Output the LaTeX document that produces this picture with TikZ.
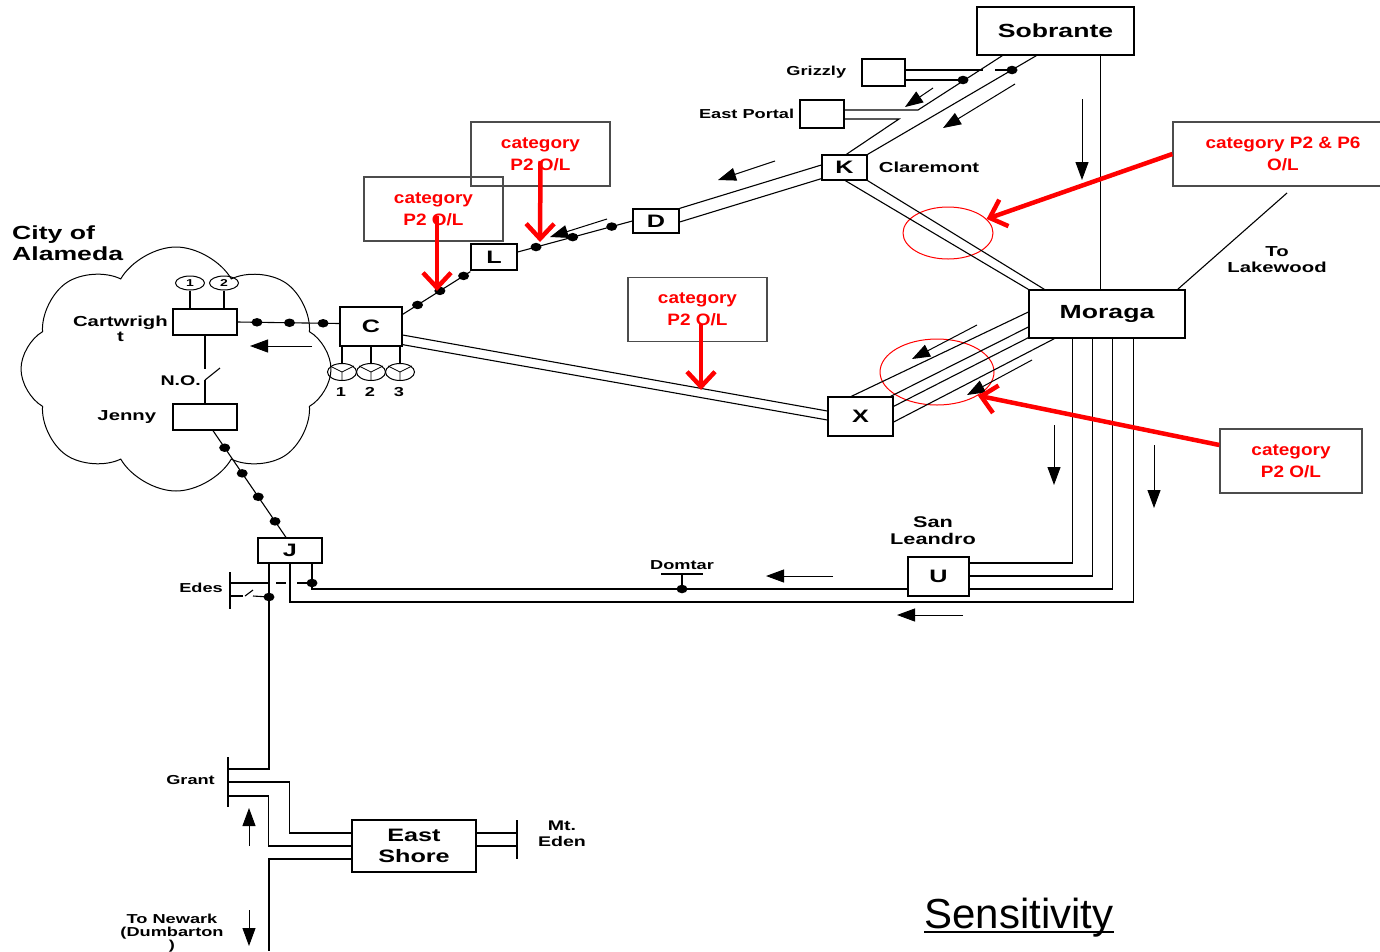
\documentclass[tikz,border=0pt]{standalone}
\usepackage{fontspec}
\setmainfont{Liberation Sans}
\newfontfamily\widebold[FakeStretch=1.4]{Liberation Sans Bold}
\newfontfamily\redbold[FakeStretch=1.15]{Liberation Sans Bold}
\usetikzlibrary{%
    arrows.meta,
    positioning,
    shapes.geometric,
    shapes.symbols
}
\newcommand{\wfont}[2]{\widebold\fontsize{#1}{#2}\selectfont}
\tikzset{station/.style = {draw, line width=1.3pt, fill=white, inner sep=0pt, align=center, font=\wfont{18}{21}}}
\tikzset{catbox/.style = {draw=black!70, line width=1.3pt, inner sep=0pt, align=center, text=red,
    font=\redbold\fontsize{16.5}{22}\selectfont, minimum width=139pt, minimum height=64pt}}
\tikzset{lbl/.style = {inner sep=0pt, align=center, font=\wfont{13}{15}}}
\tikzset{dot/.style = {ellipse, fill, inner sep=0pt, minimum width=11pt, minimum height=8.5pt}}
\tikzset{tap/.style = {ellipse, draw, line width=1pt, inner sep=0pt, minimum width=29pt, minimum height=14pt, font=\wfont{10}{10}}}
\tikzset{ring/.style = {ellipse, draw=red, line width=1pt, inner sep=0pt}}
\tikzset{wire/.style = {line width=1.1pt}}
\tikzset{flowarrow/.style = {-{Triangle[length=18pt,width=13pt]}, line width=1pt}}
\tikzset{redarrow/.style = {-{Straight Barb[length=15pt,width=28pt]}, red, line width=4.5pt}}

\begin{document}
\begin{tikzpicture}[x=1pt, y=-1pt]
    \useasboundingbox (0,0) rectangle (1380,951);
    \fill[white] (0,0) rectangle (1380,951);

    % city of Alameda
    \node[cloud, draw, line width=1pt, cloud puffs=8, cloud puff arc=120, aspect=1.3,
        minimum width=310pt, minimum height=244pt] (alameda) at (176,369) {};
    \node[lbl, font=\wfont{19}{21}, align=left, anchor=west] (alamedalbl) at (12,243) {City of\\Alameda};

    % stations
    \node[station, minimum width=157pt, minimum height=48pt, font=\wfont{19}{21}] (sob) at (1055.5,31) {Sobrante};
    \node[station, minimum width=43pt, minimum height=27pt] (griz) at (883.5,72.5) {};
    \node[station, minimum width=44pt, minimum height=28pt] (ep) at (822,114) {};
    \node[station, minimum width=45pt, minimum height=25pt] (K) at (844.5,167.5) {K};
    \node[station, minimum width=46pt, minimum height=24pt] (D) at (656,221) {D};
    \node[station, minimum width=46pt, minimum height=26pt] (L) at (494,257) {L};
    \node[station, minimum width=62pt, minimum height=39pt] (C) at (371,326.5) {C};
    \node[station, minimum width=156pt, minimum height=48pt, font=\wfont{19}{21}] (mor) at (1107,314) {Moraga};
    \node[station, minimum width=65pt, minimum height=39pt] (X) at (860.5,416.5) {X};
    \node[station, minimum width=61pt, minimum height=39pt] (U) at (938.5,576.5) {U};
    \node[station, minimum width=64pt, minimum height=25pt] (J) at (290,550.5) {J};
    \node[station, minimum width=124pt, minimum height=52pt] (es) at (414,846) {East\\Shore};
    \node[station, minimum width=64pt, minimum height=26pt] (cart) at (205,322) {};
    \node[station, minimum width=64pt, minimum height=26pt] (jen) at (205,417) {};

    % labels
    \node[lbl, left=15pt of griz] (grizlbl) {Grizzly};
    \node[lbl, left=5pt of ep] (eplbl) {East Portal};
    \node[lbl, font=\wfont{14.5}{16}, right=11pt of K] (klbl) {Claremont};
    \node[lbl, font=\wfont{14.5}{15}, anchor=east] (cartlbl) at (168,329) {Cartwrigh\\t};
    \node[lbl, font=\wfont{14.5}{16}, left=16pt of jen] (jenlbl) {Jenny};
    \node[lbl, font=\wfont{14}{16}, anchor=east] (nolbl) at (201,381) {N.O.};
    \node[lbl, font=\wfont{14.5}{16}] (lwlbl) at (1277,260) {To\\Lakewood};
    \node[lbl, font=\wfont{15.5}{17}] (sllbl) at (933,531) {San\\Leandro};
    \node[lbl] (domlbl) at (682,565) {Domtar};
    \node[lbl, anchor=east] (edeslbl) at (223,588) {Edes};
    \node[lbl, anchor=east] (grantlbl) at (215,780) {Grant};
    \node[lbl, font=\wfont{14}{16}] (edenlbl) at (562,834) {Mt.\\Eden};
    \node[lbl, font=\wfont{13}{13}] (newlbl) at (172,933) {To Newark\\(Dumbarton\\)};
    \node[inner sep=0pt, anchor=base, font=\fontsize{42}{42}\selectfont] (title) at (1019,928) {Sensitivity};
    \draw[line width=1.6pt] ([yshift=-4pt]title.base west) -- ([yshift=-4pt]title.base east);

    % overload callouts
    \node[catbox] (cat1) at (540.5,154) {category\\P2 O/L};
    \node[catbox] (cat2) at (433.5,209) {category\\P2 O/L};
    \node[catbox] (cat3) at (697.5,309.5) {category\\P2 O/L};
    \node[catbox, minimum width=220pt] (cat4) at (1283,154) {category P2 \& P6\\O/L};
    \node[catbox, minimum width=142pt] (cat5) at (1291,461) {category\\P2 O/L};
    \node[ring, minimum width=90pt, minimum height=52pt] (ring1) at (948,233) {};
    \node[ring, minimum width=114pt, minimum height=66pt] (ring2) at (937,372) {};

    % bend points and bus bars
    \coordinate (epa) at (918,110);
    \coordinate (epb) at (899,119);
    \coordinate (gzhop1) at (983,70);
    \coordinate (gzhop2) at (995,70);
    \coordinate (lakewood) at (1287,193);
    \coordinate (jbend) at (290,602);
    \coordinate (no1) at (205,369);
    \coordinate (no2) at (205,380);
    \coordinate (no3) at (220,368);
    \coordinate (domtap) at (682,574);
    \coordinate (domw) at (661,574);
    \coordinate (dome) at (703,574);
    \coordinate (g1) at (228,769);
    \coordinate (g2) at (228,782);
    \coordinate (g3) at (228,796);
    \coordinate (granttop) at (228,757);
    \coordinate (grantbot) at (228,807);
    \coordinate (newark) at (269,951);
    \coordinate (edestop) at (230,572);
    \coordinate (edesbot) at (230,609);
    \coordinate (edes1) at (230,583);
    \coordinate (edes1b) at (270,583);
    \coordinate (edes1c) at (276,583);
    \coordinate (edes2) at (230,596);
    \coordinate (edes2a) at (243,596);
    \coordinate (edes2b) at (245,596);
    \coordinate (edes2c) at (253,590);
    \coordinate (edes2d) at (253,596);
    \coordinate (edentop) at (517,820);
    \coordinate (edenbot) at (517,859);
    \coordinate (eden1) at (517,833);
    \coordinate (eden2) at (517,846);
    \coordinate (hit1) at (540,242);
    \coordinate (hit2) at (437,291);
    \coordinate (hit3) at (701,390);

    \node[dot] (gzd1) at (1012,70) {};
    \node[dot] (gzd2) at (963,80) {};
    \node[dot] (domdot) at (682,589) {};
    \node[dot] (edd1) at (312,583) {};
    \node[dot] (edd2) at (269,597) {};

    % Sobrante, Grizzly, East Portal, Claremont
    \draw[wire] ([xshift=26pt]sob.south west) -- (epa) -- ([yshift=4pt]ep.east);
    \draw[wire] ([yshift=-5pt]ep.east) -- (epb) -- ([xshift=25pt]K.north west);
    \draw[wire] ([xshift=60pt]sob.south west) -- (K.north east);
    \draw[wire] ([yshift=2.5pt]griz.east) -- (gzhop1);
    \draw[wire] (gzhop2) -- (gzd1.center);
    \draw[wire] ([yshift=-7.5pt]griz.east) -- (gzd2.center);
    \draw[wire] ([xshift=124pt]sob.south west) -- ([xshift=72pt]mor.north west);

    \draw[wire] ([yshift=2.5pt]K.west) -- (D.north east);
    \draw[wire] ([yshift=2pt]K.south west) -- ([yshift=-1pt]D.east);
    \draw[wire] ([xshift=24pt]K.south west) -- (mor.north west);
    \draw[wire] (K.south east) -- ([xshift=16pt]mor.north west);
    \draw[wire] ([xshift=-8pt]mor.north east) -- (lakewood);

    % D - L - C - Alameda
    \draw[wire] (D.west) -- node[dot, pos=0.18] (dl1) {} node[dot, pos=0.52] (dl2) {}
        node[dot, pos=0.84] (dl3) {} ([yshift=5pt]L.east);
    \draw[wire] ([yshift=-1pt]L.south west) -- node[dot, pos=0.1] (lc1) {} node[dot, pos=0.45] (lc2) {}
        node[dot, pos=0.78] (lc3) {} ([yshift=-8pt]C.north east);
    \draw[wire] (cart.east) -- node[dot, pos=0.19] (cc1) {} node[dot, pos=0.51] (cc2) {}
        node[dot, pos=0.84] (cc3) {} ([yshift=3pt]C.west);
    \draw[wire] ([xshift=8pt]jen.south) -- node[dot, pos=0.16] (jj1) {} node[dot, pos=0.40] (jj2) {}
        node[dot, pos=0.62] (jj3) {} node[dot, pos=0.85] (jj4) {} ([xshift=-4pt]J.north);

    \draw[wire] (cart.south) -- (no1);
    \draw[wire] (no2) -- (no3);
    \draw[wire] (no2) -- (jen.north);
    \node[tap] (t1) at (190,283) {1};
    \node[tap] (t2) at (224,283) {2};
    \draw[wire] (t1.south) -- (t1.south |- cart.north);
    \draw[wire] (t2.south) -- (t2.south |- cart.north);

    % generators at C
    \foreach \n/\x in {1/342, 2/371, 3/400} {
        \node[tap, minimum height=17pt] (gen\n) at (\x,372) {};
        \draw[wire] (gen\n.north) -- (gen\n.north |- C.south);
        \draw[line width=0.8pt] (gen\n.center) -- +(-12,-6) (gen\n.center) -- +(12,-6) (gen\n.center) -- +(0,8.5);
        \node[lbl] (genlbl\n) at (\x-1,392) {\n};
    }

    % C - X - Moraga
    \draw[wire] ([yshift=-8.5pt]C.east) -- ([yshift=5.5pt]X.west);
    \draw[wire] ([yshift=2pt]C.south east) -- ([yshift=-3.5pt]X.west);
    \draw[wire] ([yshift=2pt]mor.west) -- ([xshift=24pt]X.north west);
    \draw[wire] ([yshift=-13pt]mor.west) -- ([xshift=-3pt]X.north east);
    \draw[wire] ([yshift=1pt]mor.south west) -- ([yshift=-10pt]X.north east);
    \draw[wire] ([xshift=26pt]mor.south west) -- ([yshift=-5.5pt]X.east);

    % Moraga - San Leandro - J
    \draw[wire] ([xshift=44pt]mor.south west) |- ([yshift=13.5pt]U.east);
    \draw[wire] ([xshift=64pt]mor.south west) |- ([yshift=0.5pt]U.east);
    \draw[wire] ([xshift=84pt]mor.south west) |- ([yshift=-12.5pt]U.east);
    \draw[wire] ([xshift=105pt]mor.south west) |- (jbend) -- (J.south);
    \draw[wire] ([yshift=-12.5pt]U.west) -| ([xshift=22pt]J.south);
    \draw[wire] (domdot.center) -- (domtap);
    \draw[wire] (domw) -- (dome);

    % Edes
    \draw[wire] (edestop) -- (edesbot);
    \draw[wire] (edes1) -- (edes1b);
    \draw[wire, dash pattern=on 10pt off 11pt] (edes1c) -- (edd1.center);
    \draw[wire] (edes2) -- (edes2a);
    \draw[wire] (edes2b) -- (edes2c);
    \draw[wire] (edes2d) -- (edd2.center);

    % Grant, East Shore, Mt. Eden
    \draw[wire] (granttop) -- (grantbot);
    \draw[wire] ([xshift=-21pt]J.south) |- (g1);
    \draw[wire] (g2) -| ([xshift=-62pt,yshift=13pt]es.west) -- ([yshift=13pt]es.west);
    \draw[wire] (g3) -| ([xshift=-83pt]es.west) -- (es.west);
    \draw[wire] ([yshift=-13pt]es.west) -| (newark);
    \draw[wire] (edentop) -- (edenbot);
    \draw[wire] ([yshift=13pt]es.east) -- (eden1);
    \draw[wire] (es.east) -- (eden2);

    % flow directions
    \foreach \xa/\ya/\xb/\yb in {%
        933/88/905/107,
        1015/84/943/128,
        1082/99/1082/180,
        775/161/718/180,
        607/219/550/237,
        312/346/250/346,
        977/325/912/359,
        1032/360/967/395,
        1054/425/1054/485,
        1154/445/1154/508,
        963/615/897/615,
        833/576/766/576,
        249/846/249/808,
        249/910/249/946%
        }
    \draw[flowarrow] (\xa,\ya) -- (\xb,\yb);

    % overload pointers
    \draw[redarrow] ([yshift=-7pt]cat1.center) -- (hit1);
    \draw[redarrow] ([xshift=3.5pt,yshift=-7pt]cat2.center) -- (hit2);
    \draw[redarrow] ([xshift=3.5pt,yshift=-14.5pt]cat3.center) -- (hit3);
    \draw[redarrow] (cat4.west) -- (ring1.20);
    \draw[redarrow] ([yshift=16pt]cat5.west) -- (ring2.-30);
\end{tikzpicture}
\end{document}
